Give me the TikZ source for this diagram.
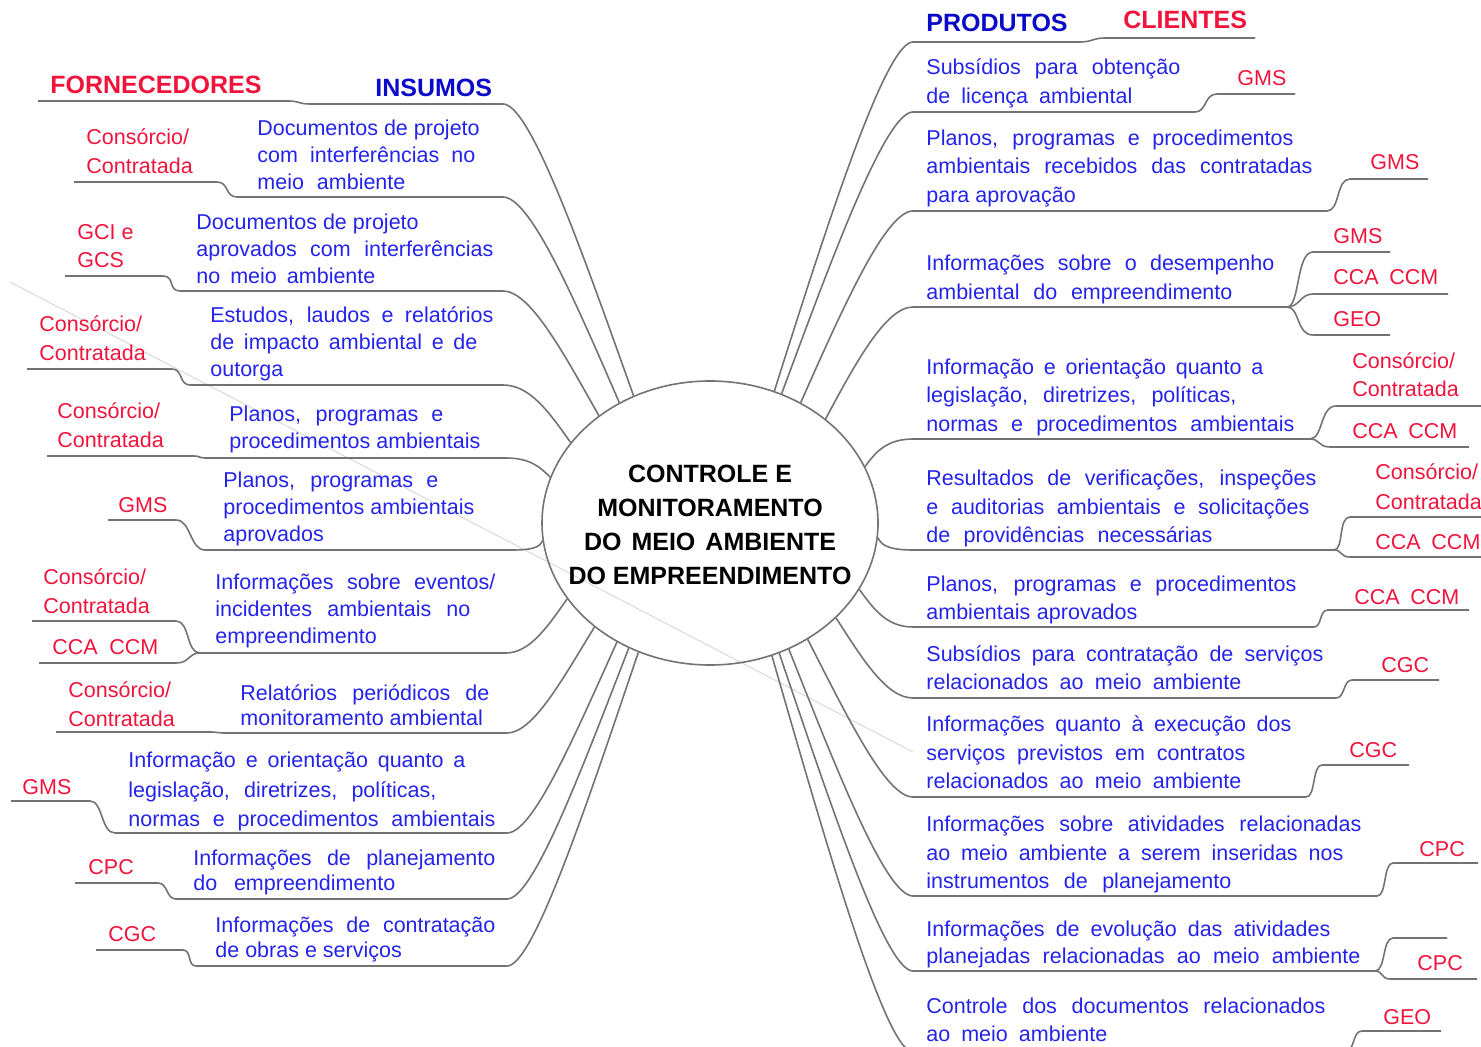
\documentclass[tikz,border=0pt]{standalone}
\usepackage{fontspec}
\setmainfont{Liberation Sans}
\usetikzlibrary{shapes.geometric}
\definecolor{azul}{RGB}{35,35,235}
\definecolor{azulescuro}{RGB}{10,10,200}
\definecolor{vermelho}{RGB}{240,20,60}
\definecolor{cinza}{RGB}{115,115,115}
\definecolor{cinzaclaro}{RGB}{210,210,210}
\newcommand{\linha}[2]{\makebox[\dimexpr#1pt/2\relax][s]{#2}}

\begin{document}
\begin{tikzpicture}[x=0.5pt, y=-0.5pt,
	insumo/.style={anchor=base west, align=left, inner sep=0pt, text=azul, font=\fontsize{10.75}{13.5}\selectfont},
	produto/.style={insumo, font=\fontsize{10.75}{14.25}\selectfont},
	sigla/.style={anchor=base west, align=left, inner sep=0pt, text=vermelho, font=\fontsize{10.75}{14.5}\selectfont},
	titulo/.style={anchor=base west, inner sep=0pt, font=\fontsize{12.5}{15}\selectfont\bfseries},
	ramo/.style={draw=cinza, line width=0.8pt}]
			
			\useasboundingbox (0,0) rectangle (1481,1047);
			\clip (0,0) rectangle (1481,1047);
			\draw[cinzaclaro, line width=0.4pt] (10,282) -- (913,752);
			
			%Centro
			\node (Centro) at (710,523) [draw=cinza, line width=0.8pt, ellipse, minimum width=168pt, 
			minimum height=142pt, inner sep=0pt]{};
			\node (CentroTexto) at (710,525) [align=center, inner sep=0pt, 
			font=\fontsize{12.5}{17}\selectfont\bfseries]{CONTROLE E\\MONITORAMENTO\\\linha{252}{DO MEIO AMBIENTE}\\DO EMPREENDIMENTO};
			
			%Titulos
			\node (Fornecedores) at (50,94) [titulo, text=vermelho]{FORNECEDORES};
			\node (Insumos) at (375,97) [titulo, text=azulescuro]{INSUMOS};
			\node (Produtos) at (926,32) [titulo, text=azulescuro]{PRODUTOS};
			\node (Clientes) at (1123,29) [titulo, text=vermelho]{CLIENTES};
			
			%Insumos (base = ultima linha)
			\node (DocProjeto) at (257,189.5) [insumo]{Documentos de projeto\\\linha{218}{com interferências no}\\\linha{148}{meio ambiente}};
			\node (DocAprovados) at (196,283.5) [insumo]{Documentos de projeto\\\linha{297}{aprovados com interferências}\\\linha{179}{no meio ambiente}};
			\node (Estudos) at (210,376.5) [insumo]{\linha{283}{Estudos, laudos e relatórios}\\\linha{267}{de impacto ambiental e de}\\outorga};
			\node (Planos) at (229,448.5) [insumo]{\linha{214}{Planos, programas e}\\procedimentos ambientais};
			\node (PlanosAprovados) at (223,541.5) [insumo]{\linha{215}{Planos, programas e}\\procedimentos ambientais\\aprovados};
			\node (Eventos) at (215,643.5) [insumo]{\linha{280}{Informações sobre eventos/}\\\linha{255}{incidentes ambientais no}\\empreendimento};
			\node (Relatorios) at (240,725.5) [insumo, font=\fontsize{10.75}{12.5}\selectfont]{\linha{249}{Relatórios periódicos de}\\monitoramento ambiental};
			\node (Orientacao) at (128,826.5) [insumo, font=\fontsize{10.75}{14.75}\selectfont]{\linha{337}{Informação e orientação quanto a}\\\linha{308}{legislação, diretrizes, políticas,}\\\linha{367}{normas e procedimentos ambientais}};
			\node (Planejamento) at (193,890.5) [insumo, font=\fontsize{10.75}{12.5}\selectfont]{\linha{302}{Informações de planejamento}\\\linha{202}{do empreendimento}};
			\node (Contratacao) at (215,957.5) [insumo, font=\fontsize{10.75}{12.5}\selectfont]{\linha{280}{Informações de contratação}\\de obras e serviços};
			
			%Fornecedores
			\node (FornDocProjeto) at (86,174) [sigla]{Consórcio/\\Contratada};
			\node (FornDocAprovados) at (77,267.5) [sigla, font=\fontsize{10.75}{14}\selectfont]{GCI e\\GCS};
			\node (FornEstudos) at (39,361) [sigla]{Consórcio/\\Contratada};
			\node (FornPlanos) at (57,448) [sigla]{Consórcio/\\Contratada};
			\node (FornPlanosAprovados) at (118,512) [sigla]{GMS};
			\node (FornEventos) at (43,613) [sigla]{Consórcio/\\Contratada};
			\node (FornEventosCCA) at (52,654) [sigla]{\linha{106}{CCA CCM}};
			\node (FornRelatorios) at (68,726) [sigla]{Consórcio/\\Contratada};
			\node (FornOrientacao) at (22,794) [sigla]{GMS};
			\node (FornPlanejamento) at (88,874) [sigla]{CPC};
			\node (FornContratacao) at (108,941) [sigla]{CGC};
			
			%Produtos
			\node (SubsLicenca) at (926,103.5) [produto]{\linha{254}{Subsídios para obtenção}\\\linha{206}{de licença ambiental}};
			\node (PlanosRecebidos) at (926,202.5) [produto]{\linha{367}{Planos, programas e procedimentos}\\\linha{386}{ambientais recebidos das contratadas}\\para aprovação};
			\node (Desempenho) at (926,299.5) [produto]{\linha{348}{Informações sobre o desempenho}\\\linha{306}{ambiental do empreendimento}};
			\node (OrientacaoLeg) at (926,431.5) [produto]{\linha{337}{Informação e orientação quanto a}\\\linha{310}{legislação, diretrizes, políticas,}\\\linha{368}{normas e procedimentos ambientais}};
			\node (Verificacoes) at (926,542.5) [produto]{\linha{390}{Resultados de verificações, inspeções}\\\linha{383}{e auditorias ambientais e solicitações}\\\linha{286}{de providências necessárias}};
			\node (PlanosAmbientais) at (926,619.5) [produto]{\linha{370}{Planos, programas e procedimentos}\\\linha{211}{ambientais aprovados}};
			\node (SubsContratacao) at (926,689.5) [produto]{\linha{397}{Subsídios para contratação de serviços}\\\linha{315}{relacionados ao meio ambiente}};
			\node (Execucao) at (926,788.5) [produto]{\linha{365}{Informações quanto à execução dos}\\\linha{319}{serviços previstos em contratos}\\\linha{315}{relacionados ao meio ambiente}};
			\node (Atividades) at (926,888.5) [produto]{\linha{435}{Informações sobre atividades relacionadas}\\\linha{417}{ao meio ambiente a serem inseridas nos}\\\linha{305}{instrumentos de planejamento}};
			\node (Evolucao) at (926,963.5) [produto, font=\fontsize{10.75}{13.5}\selectfont]{\linha{404}{Informações de evolução das atividades}\\\linha{434}{planejadas relacionadas ao meio ambiente}};
			\node (ControleDocs) at (926,1041.5) [produto]{\linha{399}{Controle dos documentos relacionados}\\\linha{181}{ao meio ambiente}};
			
			%Clientes
			\node (CliSubsLicenca) at (1237,86) [sigla]{GMS};
			\node (CliPlanosRecebidos) at (1370,170) [sigla]{GMS};
			\node (CliDesempenhoGMS) at (1333,244) [sigla]{GMS};
			\node (CliDesempenhoCCA) at (1333,285) [sigla]{\linha{105}{CCA CCM}};
			\node (CliDesempenhoGEO) at (1333,327) [sigla]{GEO};
			\node (CliOrientacao) at (1352,397) [sigla, font=\fontsize{10.75}{14}\selectfont]{Consórcio/\\Contratada};
			\node (CliOrientacaoCCA) at (1352,438) [sigla]{\linha{105}{CCA CCM}};
			\node (CliVerificacoes) at (1375,509) [sigla]{Consórcio/\\Contratada};
			\node (CliVerificacoesCCA) at (1375,549) [sigla]{\linha{105}{CCA CCM}};
			\node (CliPlanosAmbientais) at (1354,604) [sigla]{\linha{105}{CCA CCM}};
			\node (CliSubsContratacao) at (1381,672) [sigla]{CGC};
			\node (CliExecucao) at (1349,757) [sigla]{CGC};
			\node (CliAtividades) at (1419,856) [sigla]{CPC};
			\node (CliEvolucao) at (1417,970) [sigla]{CPC};
			\node (CliControleDocs) at (1383,1024) [sigla]{GEO};
			
			%Links insumos
			\draw[ramo] (38,101) -- (288,101) .. controls (300,101) and (298,104) .. (310,104) -- (503,104) .. controls (530,104) and (581,248) .. (Centro.121);
			\draw[ramo] (74,182) -- (217,182) .. controls (229,182) and (225,197) .. (237,197) -- (503,197) .. controls (530,197) and (574,298) .. (Centro.127);
			\draw[ramo] (65,276) -- (163,276) .. controls (175,276) and (168,291) .. (180,291) -- (503,291) .. controls (530,291) and (563,352) .. (Centro.136);
			\draw[ramo] (27,369) -- (172,369) .. controls (183,369) and (179,385) .. (190,385) -- (503,385) .. controls (530,385) and (549,412) .. (Centro.150);
			\draw[ramo] (47,456) -- (194,456) .. controls (200,456) and (199,458) .. (205,458) -- (506,458) .. controls (530,458) and (540,467) .. (Centro.164);
			\draw[ramo] (108,520) -- (176,520) .. controls (191,520) and (190,550) .. (205,550) -- (512,550) .. controls (530,550) and (540,548) .. (Centro.186);
			\draw[ramo] (32,621) -- (176,621) .. controls (190,621) and (186,653) .. (200,653) -- (506,653) .. controls (530,653) and (548,626) .. (Centro.208);
			\draw[ramo] (39,663) -- (176,663) .. controls (190,663) and (188,653) .. (200,653);
			\draw[ramo] (56,732) -- (212,732) .. controls (217,732) and (218,733) .. (223,733) -- (507,733) .. controls (533,733) and (562,680) .. (Centro.222);
			\draw[ramo] (11,801) -- (90,801) .. controls (103,801) and (101,833) .. (115,833) -- (507,833) .. controls (533,833) and (574,737) .. (Centro.232);
			\draw[ramo] (75,883) -- (158,883) .. controls (168,883) and (166,899) .. (176,899) -- (507,899) .. controls (533,899) and (580,774) .. (Centro.237);
			\draw[ramo] (96,950) -- (183,950) .. controls (192,950) and (187,966) .. (196,966) -- (507,966) .. controls (533,966) and (585,810) .. (Centro.241);
			
			%Links produtos
			\draw[ramo] (Centro.64) .. controls (830,215) and (886,42) .. (913,42) -- (1080,42) .. controls (1092,42) and (1093,38) .. (1105,38) -- (1255,38);
			\draw[ramo] (Centro.61) .. controls (834,252) and (886,112) .. (913,112) -- (1195,112) .. controls (1207,112) and (1204,94) .. (1217,94) -- (1295,94);
			\draw[ramo] (Centro.53) .. controls (844,305) and (886,211) .. (913,211) -- (1327,211) .. controls (1340,211) and (1336,179) .. (1350,179) -- (1428,179);
			\draw[ramo] (Centro.42) .. controls (856,362) and (886,307) .. (913,307) -- (1287,307);
			\draw[ramo] (1287,307) .. controls (1300,307) and (1296,252) .. (1313,252) -- (1390,252);
			\draw[ramo] (1287,307) .. controls (1300,307) and (1300,294) .. (1313,294) -- (1448,294);
			\draw[ramo] (1287,307) .. controls (1300,307) and (1296,335) .. (1313,335) -- (1390,335);
			\draw[ramo] (Centro.20) .. controls (875,453) and (886,439) .. (913,439) -- (1310,439);
			\draw[ramo] (1310,439) .. controls (1323,439) and (1320,406) .. (1336,406) -- (1481,406);
			\draw[ramo] (1310,439) .. controls (1320,439) and (1318,447) .. (1330,447) -- (1469,447);
			\draw[ramo] (Centro.355) .. controls (881,544) and (886,550) .. (913,550) -- (1334,550);
			\draw[ramo] (1334,550) .. controls (1344,550) and (1338,517) .. (1350,517) -- (1481,517);
			\draw[ramo] (1334,550) .. controls (1342,550) and (1340,557) .. (1350,557) -- (1481,557);
			\draw[ramo] (Centro.336) .. controls (873,608) and (886,627) .. (913,627) -- (1314,627) .. controls (1322,627) and (1319,610) .. (1328,610) -- (1469,610);
			\draw[ramo] (Centro.323) .. controls (862,658) and (886,698) .. (913,698) -- (1336,698) .. controls (1345,698) and (1343,680) .. (1352,680) -- (1439,680);
			\draw[ramo] (Centro.310) .. controls (848,718) and (886,797) .. (913,797) -- (1306,797) .. controls (1316,797) and (1312,765) .. (1322,765) -- (1409,765);
			\draw[ramo] (Centro.302) .. controls (838,773) and (886,896) .. (913,896) -- (1377,896) .. controls (1387,896) and (1383,863) .. (1393,863) -- (1478,863);
			\draw[ramo] (Centro.298) .. controls (833,812) and (886,971) .. (913,971) -- (1375,971);
			\draw[ramo] (1375,971) .. controls (1386,971) and (1382,938) .. (1393,938) -- (1447,938);
			\draw[ramo] (1375,971) .. controls (1383,971) and (1381,979) .. (1390,979) -- (1477,979);
			\draw[ramo] (Centro.295) .. controls (829,854) and (886,1052) .. (913,1052) -- (1345,1052) .. controls (1355,1052) and (1352,1031) .. (1362,1031) -- (1441,1031);
			
\end{tikzpicture}
\end{document}
